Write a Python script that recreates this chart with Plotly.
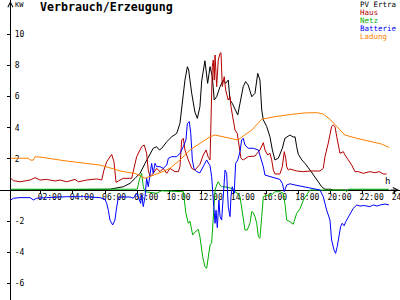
import plotly.graph_objects as go

# ---------------- data (hours, kW) ----------------
names = ["PV Ertra", "Haus", "Netz", "Batterie", "Ladung"]
colors = ["#000000", "#b40000", "#00b000", "#0000ff", "#ff8000"]

pv_t = [0.14, 6.30, 7.13, 7.55, 7.86, 8.17, 8.48, 8.79, 8.99, 9.20, 9.37, 9.52, 9.83, 10.14, 10.45,
        10.65, 10.82, 10.96, 11.11, 11.19, 11.38, 11.58, 11.73, 11.89, 12.00, 12.20, 12.37, 12.52,
        12.66, 12.78, 12.93, 13.14, 13.34, 13.49, 13.65, 13.76, 13.90, 14.07, 14.24, 14.38, 14.58,
        14.73, 14.89, 15.11, 15.31, 15.48, 15.62, 15.73, 15.83, 16.04, 16.24, 16.39, 16.55, 16.76,
        17.01, 17.17, 17.48, 17.69, 17.80, 17.90, 18.00, 18.22, 18.42, 18.73, 19.04, 19.24, 19.45,
        19.66, 19.97, 20.20, 23.63]
pv_v = [0.0, 0.05, 0.21, 0.43, 0.75, 1.07, 1.71, 2.36, 2.68, 2.78, 2.57, 2.68, 3.10, 3.42, 3.64,
        4.28, 5.78, 7.06, 7.92, 7.71, 6.21, 5.00, 4.60, 5.35, 7.00, 8.30, 6.85, 7.92,
        7.28, 5.78, 5.99, 6.64, 7.06, 6.85, 7.06, 5.78, 5.57, 5.14, 4.82, 5.57, 6.64,
        6.96, 6.74, 5.99, 6.21, 7.49, 7.06, 5.14, 4.50, 4.07, 3.42, 2.57, 1.93, 2.04,
        2.68, 3.32, 3.53, 3.40, 3.42, 2.78, 2.30, 1.93, 1.71, 1.28, 0.86, 0.53, 0.21,
        0.05, 0.05, 0.0, 0.0]

haus_t = [0.14, 0.30, 0.71, 1.02, 1.34, 1.65, 1.96, 2.37, 2.89, 3.20, 3.61, 4.13, 4.34, 4.86, 5.48,
          5.79, 5.93, 6.10, 6.41, 6.55, 6.61, 6.68, 6.93, 7.13, 7.55, 7.65, 7.96, 8.27, 8.43, 8.58,
          8.68, 8.79, 8.99, 9.20, 9.41, 9.61, 9.83, 10.03, 10.34, 10.55, 10.65, 10.76, 10.86, 10.96,
          11.17, 11.38, 11.58, 11.89, 12.10, 12.27, 12.41, 12.52, 12.58, 12.66, 12.72, 12.78, 12.83,
          12.93, 13.03, 13.14, 13.20, 13.28, 13.40, 13.49, 13.65, 13.76, 13.82, 13.96, 14.07, 14.21,
          14.34, 14.44, 14.58, 14.89, 15.31, 15.62, 15.83, 15.93, 16.10, 16.24, 16.35, 16.45, 16.55,
          16.86, 17.01, 17.13, 17.22, 17.28, 17.38, 17.48, 17.90, 18.32, 18.73, 19.35, 19.55, 19.66,
          19.86, 20.07, 20.17, 20.28, 20.39, 20.48, 20.59, 20.80, 20.90, 21.11, 21.32, 21.52, 21.73,
          22.04, 22.45, 22.76, 23.03, 23.28, 23.49]
haus_v = [0.75, 0.60, 0.53, 0.60, 0.64, 0.79, 0.64, 0.68, 0.58, 0.64, 0.53, 0.68, 0.53, 0.64, 0.71,
          0.64, 1.28, 1.82, 2.28, 1.82, 1.07, 0.49, 0.64, 0.75, 0.75, 0.75, 2.14, 2.78, 2.89, 2.36,
          1.28, 0.86, 1.07, 1.39, 1.18, 1.39, 1.07, 1.39, 1.18, 1.18, 1.50, 3.21, 3.32, 2.57,
          1.93, 1.39, 1.28, 1.65, 2.25, 2.57, 2.10, 1.93, 4.50, 7.92, 8.35, 7.06, 8.67,
          6.64, 8.35, 8.78, 8.82, 6.64, 7.28, 6.42, 5.78, 5.99, 5.35, 4.50, 3.85, 3.64,
          2.57, 2.04, 1.93, 2.14, 2.18, 2.57, 3.04, 2.57, 2.25, 2.36, 1.93, 1.28, 1.03,
          1.03, 1.50, 2.46, 2.04, 1.50, 1.28, 1.35, 1.22, 1.18, 1.22, 1.22, 1.39, 2.14,
          3.00, 4.07, 4.17, 4.07, 3.42, 2.89, 2.36, 2.46, 2.25, 1.93, 1.60, 1.18, 1.18,
          1.07, 1.18, 1.11, 1.18, 1.03, 1.03]

netz_t = [0.14, 8.00, 8.12, 8.27, 8.37, 8.48, 9.20, 9.50, 10.86, 11.02, 11.17, 11.27, 11.44, 11.58,
          11.79, 11.89, 12.06, 12.20, 12.31, 12.41, 12.52, 12.62, 12.72, 12.83, 12.93, 13.03, 13.14,
          13.24, 13.45, 13.65, 13.86, 14.07, 14.20, 14.38, 14.48, 14.58, 14.69, 14.83, 15.00, 15.11,
          15.20, 15.31, 15.42, 15.52, 15.62, 15.73, 15.83, 16.14, 16.35, 16.55, 16.86, 17.07, 17.17,
          17.28, 17.48, 17.69, 17.90, 18.11, 18.32, 18.52, 18.73, 20.90, 21.01, 21.11, 23.63]
netz_v = [0.05, 0.05, 0.64, 1.07, 0.21, -0.11, -0.21, -0.05, -0.11, -1.50, -2.14, -2.00, -2.89, -2.70,
          -2.53, -3.00, -4.28, -4.93, -5.03, -4.28, -3.53, -3.40, -1.71, 0.00, 0.32, 0.53, 0.32,
          0.21, 0.20, 0.15, 0.11, -0.11, -0.20, -0.43, -1.07, -1.71, -2.57, -2.57, -2.14, -1.39,
          -1.45, -1.71, -2.14, -3.00, -3.10, -1.71, -0.43, -0.32, -0.32, -0.11, -0.11, -0.21, -0.86,
          -1.93, -2.03, -2.20, -1.50, -1.20, -0.64, -0.32, 0.00, 0.00, -0.11, 0.05, 0.05]

batt_t = [0.14, 0.30, 0.71, 1.34, 1.54, 1.75, 2.37, 3.61, 4.65, 5.68, 5.99, 6.10, 6.20, 6.30, 6.47,
          6.61, 6.72, 6.82, 6.93, 7.55, 7.75, 7.96, 8.05, 8.21, 8.27, 8.37, 8.48, 8.58, 8.68, 8.79,
          8.89, 8.99, 9.10, 9.20, 9.41, 9.61, 9.83, 9.93, 10.14, 10.45, 10.65, 10.86, 11.02, 11.11,
          11.23, 11.32, 11.42, 11.52, 11.69, 11.89, 12.10, 12.31, 12.52, 12.62, 12.72, 12.83, 12.89,
          12.97, 13.07, 13.14, 13.24, 13.34, 13.45, 13.55, 13.65, 13.76, 13.82, 13.90, 14.02, 14.11,
          14.24, 14.38, 14.48, 14.58, 14.69, 14.89, 15.20, 15.52, 15.73, 15.83, 15.93, 16.24, 16.55,
          16.86, 17.01, 17.13, 17.28, 17.48, 17.80, 18.11, 18.52, 18.93, 19.35, 19.55, 19.76, 19.97,
          20.07, 20.22, 20.32, 20.42, 20.53, 20.63, 20.73, 20.85, 20.95, 21.11, 21.20, 21.42, 21.63,
          21.83, 22.10, 22.45, 22.66, 22.90, 23.10, 23.39, 23.63]
batt_v = [-0.64, -0.53, -0.49, -0.49, -0.64, -0.53, -0.49, -0.43, -0.43, -0.49, -0.60, -0.86, -1.30,
          -1.93, -2.25, -1.93, -1.10, -0.50, -0.45, -0.45, -0.53, -0.21, -0.43, -0.86, -0.30, -1.07,
          -0.43, 0.75, 0.21, 1.07, 1.71, 1.07, 1.71, 1.50, 1.50, 1.39, 1.60, 2.04, 2.14, 2.14, 2.36,
          2.78, 3.21, 4.28, 4.39, 3.64, 1.93, 1.39, 1.18, 1.10, 1.55, 1.93, 1.55, 0.86, -0.64, -2.14,
          -1.30, -2.42, -0.64, -1.71, -1.93, -0.21, 1.28, 1.07, -1.07, -1.71, -0.43, 0.21, -0.21,
          1.71, 1.93, 2.46, 3.21, 3.32, 2.89, 2.68, 2.68, 2.57, 1.93, 1.50, 0.96, 0.86, 0.75, 0.68,
          0.43, -0.11, 0.32, 0.40, 0.32, 0.26, 0.15, 0.11, 0.00, -0.43, -1.28, -1.93, -3.21, -3.85,
          -4.07, -3.64, -2.78, -2.36, -2.14, -2.30, -2.03, -1.71, -1.60, -1.18, -0.96, -1.03, -1.00,
          -1.07, -0.96, -1.03, -0.96, -0.90, -0.96]

lad_t = [0.14, 1.23, 1.34, 1.54, 1.65, 2.06, 3.61, 5.68, 6.61, 6.93, 7.55, 7.86, 8.48, 8.79, 9.41,
         10.03, 10.65, 11.27, 11.58, 11.89, 12.52, 12.83, 13.45, 14.27, 14.58, 15.11, 15.73, 16.55,
         17.59, 18.42, 19.14, 19.55, 19.97, 20.39, 20.90, 21.63, 22.45, 23.18, 23.63]
lad_v = [2.04, 2.04, 1.92, 1.92, 2.14, 2.10, 1.86, 1.60, 1.33, 1.22, 1.11, 1.07, 0.75, 0.86, 1.11,
         1.39, 1.93, 2.57, 2.78, 3.00, 3.42, 3.53, 3.38, 3.21, 3.47, 3.85, 4.54, 4.71,
         4.86, 4.95, 4.97, 4.88, 4.54, 4.07, 3.53, 3.32, 3.10, 2.95, 2.74]

series_t = [pv_t, haus_t, netz_t, batt_t, lad_t]
series_v = [pv_v, haus_v, netz_v, batt_v, lad_v]

x_ticks = [2, 4, 6, 8, 10, 12, 14, 16, 18, 20, 22, 24]
x_ticktext = ["02:00", "04:00", "06:00", "08:00", "10:00", "12:00",
              "14:00", "16:00", "18:00", "20:00", "22:00", "24:00"]
y_ticks = [10, 8, 6, 4, 2, -2, -4, -6]
y_ticktext = ["10", "8", "6", "4", "2", "-2", "-4", "-6"]

title = "Verbrauch/Erzeugung"
y_unit = "KW"
x_unit = "h"

X_RANGE = [-0.53, 24.32]
Y_RANGE = [-7.065, 12.203]

# ---------------- figure ----------------
MONO = "DejaVu Sans Mono"
fig = go.Figure()
for n, c, t, v in zip(names, colors, series_t, series_v):
    fig.add_trace(go.Scatter(x=t, y=v, mode="lines", name=n,
                             line=dict(color=c, width=1), hoverinfo="skip"))

zero_frac = (0 - Y_RANGE[0]) / (Y_RANGE[1] - Y_RANGE[0])

fig.update_layout(
    width=400, height=300,
    margin=dict(l=0, r=0, t=0, b=0, autoexpand=False),
    paper_bgcolor="white", plot_bgcolor="white",
    showlegend=False,
    xaxis=dict(range=X_RANGE, showgrid=False, zeroline=False, automargin=False,
               showline=True, linecolor="black", linewidth=1,
               anchor="free", position=zero_frac,
               tickmode="array", tickvals=x_ticks, ticktext=x_ticktext,
               ticks="outside", ticklen=3, tickwidth=1, tickcolor="black",
               ticklabelshift=9, ticklabelstandoff=-4,
               ticklabeloverflow="allow",
               tickfont=dict(family=MONO, size=8, color="black"),
               layer="below traces"),
    yaxis=dict(range=Y_RANGE, showgrid=False, zeroline=False, automargin=False,
               showline=True, linecolor="black", linewidth=1,
               anchor="free", position=0.026,
               tickmode="array", tickvals=y_ticks, ticktext=y_ticktext,
               ticks="outside", ticklen=3, tickwidth=1, tickcolor="black",
               ticklabelposition="inside", ticklabelstandoff=2,
               tickfont=dict(family=MONO, size=8, color="black"),
               layer="below traces"),
)

ann = []
ann.append(dict(text="<b>" + title + "</b>", xref="paper", yref="paper",
                x=38 / 400, y=1 - 7 / 300, xanchor="left", yanchor="middle",
                showarrow=False, font=dict(family=MONO, size=11.6, color="black")))
legend_y = [4.5, 12.5, 20.5, 28.5, 36.5]
for n, c, py in zip(names, colors, legend_y):
    ann.append(dict(text=n, xref="paper", yref="paper", x=359 / 400, y=1 - py / 300,
                    xanchor="left", yanchor="middle", showarrow=False, borderpad=0,
                    font=dict(family=MONO, size=7.5, color=c)))
ann.append(dict(text=y_unit, xref="paper", yref="paper", x=13 / 400, y=1 - 5 / 300,
                xanchor="left", yanchor="middle", showarrow=False,
                font=dict(family=MONO, size=7, color="black")))
ann.append(dict(text=x_unit, xref="paper", yref="paper", x=387 / 400, y=1 - 181 / 300,
                xanchor="center", yanchor="middle", showarrow=False,
                font=dict(family=MONO, size=9, color="black")))
# axis arrows
ann.append(dict(text="", xref="paper", yref="paper", x=0.026, y=1, ax=0, ay=10,
                showarrow=True, arrowhead=5, arrowsize=1, arrowwidth=1, arrowcolor="black"))
ann.append(dict(text="", xref="paper", yref="y", x=399 / 400, y=0, ax=-10, ay=0,
                showarrow=True, arrowhead=5, arrowsize=1, arrowwidth=1, arrowcolor="black"))
fig.update_layout(annotations=ann)

fig.write_html("out.html")
